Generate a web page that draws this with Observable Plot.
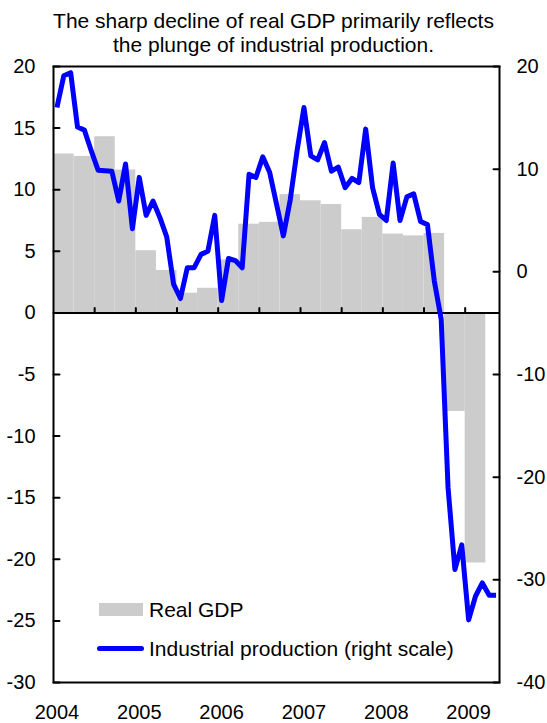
<!DOCTYPE html>
<html>
<head>
<meta charset="utf-8">
<script src="https://cdn.jsdelivr.net/npm/d3@7"></script>
<script src="https://cdn.jsdelivr.net/npm/@observablehq/plot@0.6"></script>
<style>
  html, body { margin: 0; padding: 0; background: #fff; }
  #wrap { position: relative; width: 547px; height: 723px; font-family: "Liberation Sans", Arial, sans-serif; color: #000; }
  #title { box-sizing: border-box; height: 58px; padding-top: 8.5px; font-size: 21px; line-height: 24.5px; text-align: center; }
  #chart svg { display: block; }
  .lg { position: absolute; }
  .lgtext { position: absolute; font-size: 21px; line-height: 21px; white-space: nowrap; }
</style>
</head>
<body>
<div id="wrap">
  <div id="title">The sharp decline of real GDP primarily reflects<br>the plunge of industrial production.</div>
  <div id="chart"></div>
  <div class="lg" style="left:99px; top:603px; width:44px; height:13px; background:#cccccc;"></div>
  <div class="lgtext" style="left:149px; top:599px;">Real GDP</div>
  <div class="lg" style="left:97px; top:645.5px; width:47px; height:5px; background:#0000ff; border-radius:2.5px;"></div>
  <div class="lgtext" style="left:149px; top:638px;">Industrial production (right scale)</div>
</div>
<script>
// Real GDP (left scale), quarterly 2004Q1 - 2009Q1
const gdpQuarters = ["2004Q1","2004Q2","2004Q3","2004Q4","2005Q1","2005Q2","2005Q3","2005Q4",
  "2006Q1","2006Q2","2006Q3","2006Q4","2007Q1","2007Q2","2007Q3","2007Q4",
  "2008Q1","2008Q2","2008Q3","2008Q4","2009Q1"];
const gdpValues = [12.9, 12.7, 14.3, 11.6, 5.05, 3.45, 1.6, 2.0,
  4.3, 7.2, 7.35, 9.6, 9.1, 8.8, 6.75, 7.75,
  6.4, 6.25, 6.45, -8.0, -20.3];

// Industrial production (right scale), monthly Jan 2004 - May 2009
const ipValues = [
  16.0, 19.1, 19.4, 14.1, 13.8, 11.8, 9.9, 9.85, 9.8, 6.9, 10.5, 4.2,   // 2004
  9.2, 5.5, 6.9, 5.3, 3.4, -1.2, -2.6, 0.4, 0.4, 1.7, 2.0, 5.5,         // 2005
  -2.8, 1.3, 1.1, 0.4, 9.5, 9.2, 11.2, 9.7, 6.6, 3.5, 7.0, 11.8,        // 2006
  16.0, 11.3, 10.9, 12.6, 9.8, 10.2, 8.2, 9.1, 8.7, 13.9, 8.2, 5.6,     // 2007
  5.0, 10.6, 5.0, 7.3, 7.6, 4.9, 4.6, -0.9, -4.6, -21.0, -29.0, -26.6,  // 2008
  -33.9, -31.6, -30.3, -31.5, -31.5                                     // 2009
];

const years = ["2004","2005","2006","2007","2008","2009"];
const leftTicks = [20, 15, 10, 5, 0, -5, -10, -15, -20, -25, -30];
const rightTicks = [20, 10, 0, -10, -20, -30, -40];
const halfYearTicks = [6, 12, 18, 24, 30, 36, 42, 48, 54, 60];

// right scale [-40, 20] mapped onto left scale [-30, 20]
const toLeft = r => 20 + (r - 20) * 5 / 6;
const toRight = l => Math.round(20 + (l - 20) * 6 / 5);

const lineShape = { draw(context, l) { context.moveTo(0, 0); context.lineTo(0, -l); } };

const gdp = gdpValues.map((v, i) => ({q: gdpQuarters[i], i, v}));
const ip = ipValues.map((v, i) => ({m: i, v}));

const chart = Plot.plot({
  width: 547,
  height: 665,
  marginTop: 8,
  marginBottom: 41,
  marginLeft: 53,
  marginRight: 48,
  style: { fontFamily: "'Liberation Sans', Arial, sans-serif", fontSize: "20px", color: "#000", background: "#fff", overflow: "visible" },
  x: { domain: [0, 65], axis: null },
  y: { domain: [-30, 20], axis: null },
  marks: [
    Plot.rectY(gdp, { x1: d => d.i * 3, x2: d => d.i * 3 + 3, y: "v", fill: "#cccccc" }),
    Plot.ruleY([0], { stroke: "#000", strokeWidth: 2 }),
    Plot.frame({ stroke: "#000", strokeWidth: 2 }),
    Plot.vector(leftTicks, { y: d => d, frameAnchor: "left", length: 6, anchor: "start", rotate: 90, shape: lineShape, stroke: "#000", strokeWidth: 2 }),
    Plot.vector(rightTicks.map(toLeft), { y: d => d, frameAnchor: "right", length: 6, anchor: "start", rotate: -90, shape: lineShape, stroke: "#000", strokeWidth: 2 }),
    Plot.vector(halfYearTicks, { x: d => d, y: () => 0, length: 5, anchor: "start", rotate: 0, shape: lineShape, stroke: "#000", strokeWidth: 2 }),
    Plot.line(ip, { x: d => d.m + 0.5, y: d => toLeft(d.v), stroke: "#0000ff", strokeWidth: 5, strokeLinejoin: "round", strokeLinecap: "butt" }),
    Plot.axisY(leftTicks, { anchor: "left", label: null, tickSize: 0, tickPadding: 18, tickFormat: d => String(d) }),
    Plot.axisY(rightTicks.map(toLeft), { anchor: "right", label: null, tickSize: 0, tickPadding: 17, tickFormat: d => String(toRight(d)) }),
    Plot.axisX(years.map((y, i) => i * 12 + 0.5), { anchor: "bottom", label: null, tickSize: 0, tickPadding: 22, tickFormat: (d) => years[Math.round((d - 0.5) / 12)] })
  ]
});
document.getElementById("chart").appendChild(chart);
</script>
</body>
</html>
